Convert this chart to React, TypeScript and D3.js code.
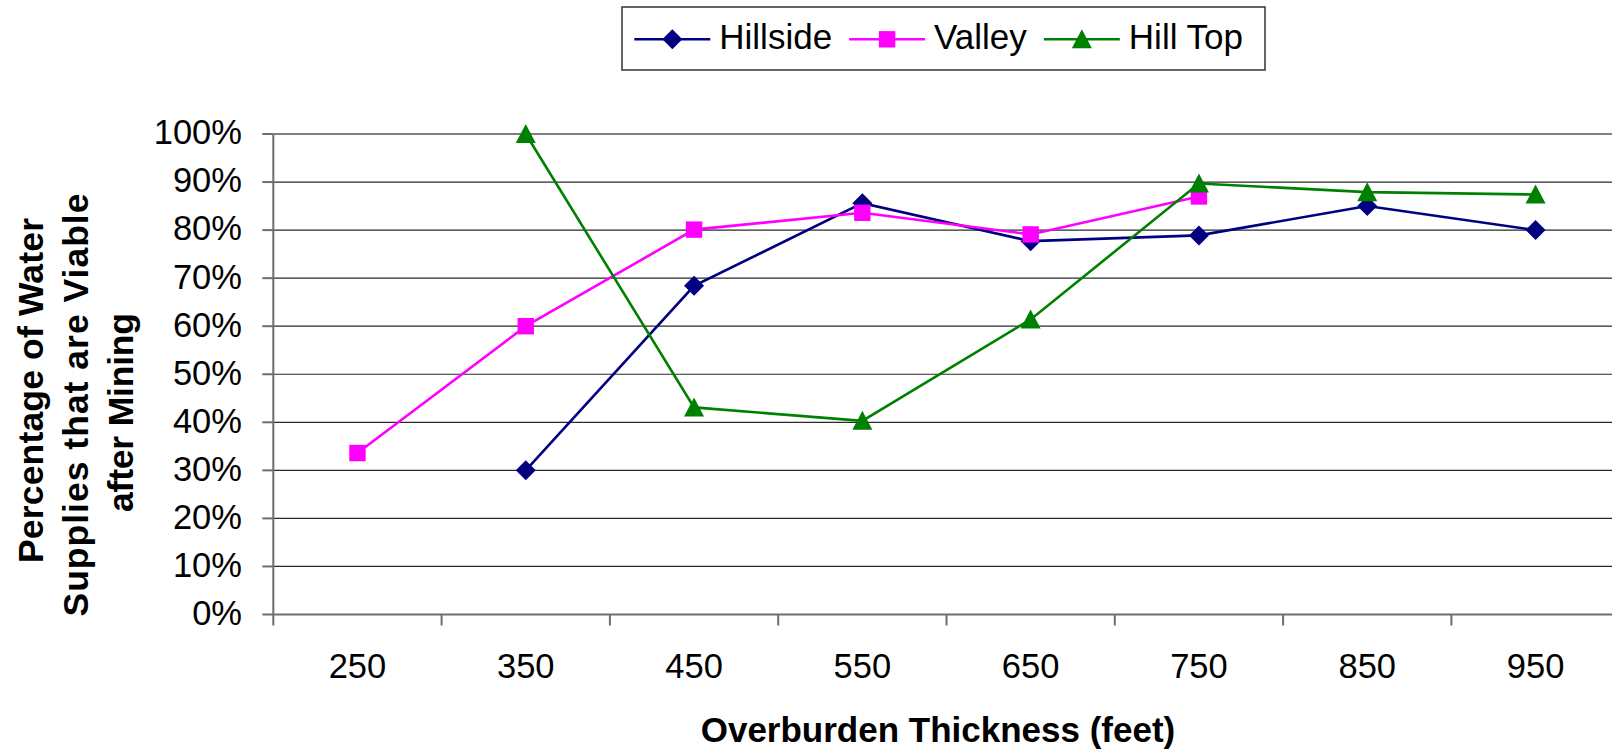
import React, { useEffect, useRef } from "react";
import * as d3 from "d3";

const categories = ["250", "350", "450", "550", "650", "750", "850", "950"];
const hillside: (number | null)[] = [null, 30.0, 68.4, 85.6, 77.7, 78.9, 85.0, 80.0];
const valley: (number | null)[] = [33.6, 60.0, 80.1, 83.6, 79.1, 87.0, null, null];
const hillTop: (number | null)[] = [null, 100.0, 43.1, 40.3, 61.4, 89.7, 87.9, 87.4];
const yTicks = [0, 10, 20, 30, 40, 50, 60, 70, 80, 90, 100];
const seriesNames = ["Hillside", "Valley", "Hill Top"];
const seriesColors = ["#000080", "#FF00FF", "#008000"];
const seriesShapes = ["diamond", "square", "triangle"];
const seriesData = [hillside, valley, hillTop];

const W = 1612;
const H = 751;
const FONT = "'Liberation Sans', Arial, sans-serif";

function markerPath(shape: string): string {
  if (shape === "diamond") return "M0,-10L10,0L0,10L-10,0Z";
  if (shape === "square") return "M-8.2,-8.2H8.2V8.2H-8.2Z";
  return "M0,-10L10,9L-10,9Z";
}

export default function App() {
  const ref = useRef<SVGSVGElement>(null);

  useEffect(() => {
    const svg = d3.select(ref.current);
    svg.selectAll("*").remove();

    const left = 273.3;
    const band = 168.3;
    const top = 134;
    const bottom = 614.5;

    const x = d3
      .scaleBand<string>()
      .domain(categories)
      .range([left, left + band * categories.length]);
    const y = d3.scaleLinear().domain([0, 100]).range([bottom, top]);
    const cx = (c: string) => (x(c) as number) + x.bandwidth() / 2;

    // gridlines
    const grid = svg.append("g");
    yTicks.forEach((t) => {
      if (t === 0) return;
      grid
        .append("line")
        .attr("x1", left)
        .attr("x2", left + band * categories.length)
        .attr("y1", y(t))
        .attr("y2", y(t))
        .attr("stroke", t === 100 ? "#808080" : "#2a2a2a")
        .attr("stroke-width", t === 100 ? 2 : 1.2);
    });

    // y axis
    const axisColor = "#6e6e6e";
    svg
      .append("line")
      .attr("x1", left)
      .attr("x2", left)
      .attr("y1", top)
      .attr("y2", bottom + 11)
      .attr("stroke", axisColor)
      .attr("stroke-width", 2);
    yTicks.forEach((t) => {
      svg
        .append("line")
        .attr("x1", left - 11)
        .attr("x2", left)
        .attr("y1", y(t))
        .attr("y2", y(t))
        .attr("stroke", axisColor)
        .attr("stroke-width", 2);
      svg
        .append("text")
        .attr("x", 242)
        .attr("y", y(t))
        .attr("dy", "0.3em")
        .attr("text-anchor", "end")
        .attr("font-family", FONT)
        .attr("font-size", 34.5)
        .attr("fill", "#000")
        .text(`${t}%`);
    });

    // x axis
    svg
      .append("line")
      .attr("x1", left)
      .attr("x2", left + band * categories.length)
      .attr("y1", bottom)
      .attr("y2", bottom)
      .attr("stroke", axisColor)
      .attr("stroke-width", 2);
    categories.forEach((c) => {
      const bx = (x(c) as number) + band;
      svg
        .append("line")
        .attr("x1", bx)
        .attr("x2", bx)
        .attr("y1", bottom)
        .attr("y2", bottom + 11)
        .attr("stroke", axisColor)
        .attr("stroke-width", 2);
      svg
        .append("text")
        .attr("x", cx(c))
        .attr("y", 678)
        .attr("text-anchor", "middle")
        .attr("font-family", FONT)
        .attr("font-size", 34.5)
        .attr("fill", "#000")
        .text(c);
    });

    // series
    seriesData.forEach((data, si) => {
      const pts = categories
        .map((c, i) => ({ c, v: data[i] }))
        .filter((d) => d.v !== null) as { c: string; v: number }[];
      const line = d3
        .line<{ c: string; v: number }>()
        .x((d) => cx(d.c))
        .y((d) => y(d.v));
      svg
        .append("path")
        .attr("d", line(pts) as string)
        .attr("fill", "none")
        .attr("stroke", seriesColors[si])
        .attr("stroke-width", 2.6);
      pts.forEach((d) => {
        svg
          .append("path")
          .attr("d", markerPath(seriesShapes[si]))
          .attr("transform", `translate(${cx(d.c)},${y(d.v)})`)
          .attr("fill", seriesColors[si]);
      });
    });

    // y title
    const yTitle = ["Percentage of Water", "Supplies that are Viable", "after Mining"];
    const yTitleX = [43.3, 88, 133.3];
    const yTitleY = [390.5, 405, 412.5];
    const yTitleLen = [345, 423, 199];
    yTitle.forEach((t, i) => {
      svg
        .append("text")
        .attr("transform", `translate(${yTitleX[i]},${yTitleY[i]}) rotate(-90)`)
        .attr("text-anchor", "middle")
        .attr("font-family", FONT)
        .attr("font-weight", "bold")
        .attr("font-size", 35.5)
        .attr("textLength", yTitleLen[i])
        .attr("lengthAdjust", "spacing")
        .attr("fill", "#000")
        .text(t);
    });

    // x title
    svg
      .append("text")
      .attr("x", 938)
      .attr("y", 742)
      .attr("text-anchor", "middle")
      .attr("font-family", FONT)
      .attr("font-weight", "bold")
      .attr("font-size", 35)
      .attr("fill", "#000")
      .text("Overburden Thickness (feet)");

    // legend
    svg
      .append("rect")
      .attr("x", 622)
      .attr("y", 7)
      .attr("width", 643)
      .attr("height", 63)
      .attr("fill", "#fff")
      .attr("stroke", "#333")
      .attr("stroke-width", 1.5);
    let lx = 634.3;
    seriesNames.forEach((name, si) => {
      const ly = 39.3;
      svg
        .append("line")
        .attr("x1", lx)
        .attr("x2", lx + 76)
        .attr("y1", ly)
        .attr("y2", ly)
        .attr("stroke", seriesColors[si])
        .attr("stroke-width", 2.6);
      svg
        .append("path")
        .attr("d", markerPath(seriesShapes[si]))
        .attr("transform", `translate(${lx + 38},${ly})`)
        .attr("fill", seriesColors[si]);
      const txt = svg
        .append("text")
        .attr("x", lx + 85)
        .attr("y", 48.5)
        .attr("font-family", FONT)
        .attr("font-size", 35)
        .attr("fill", "#000")
        .text(name);
      const w = (txt.node() as SVGTextElement).getComputedTextLength();
      lx = lx + 85 + w + 17;
    });
  }, []);

  return (
    <div
      style={{
        position: "absolute",
        left: 0,
        top: 0,
        width: W,
        height: H,
        overflow: "hidden",
        background: "#fff",
      }}
    >
      <svg ref={ref} width={W} height={H} style={{ display: "block" }} />
    </div>
  );
}
